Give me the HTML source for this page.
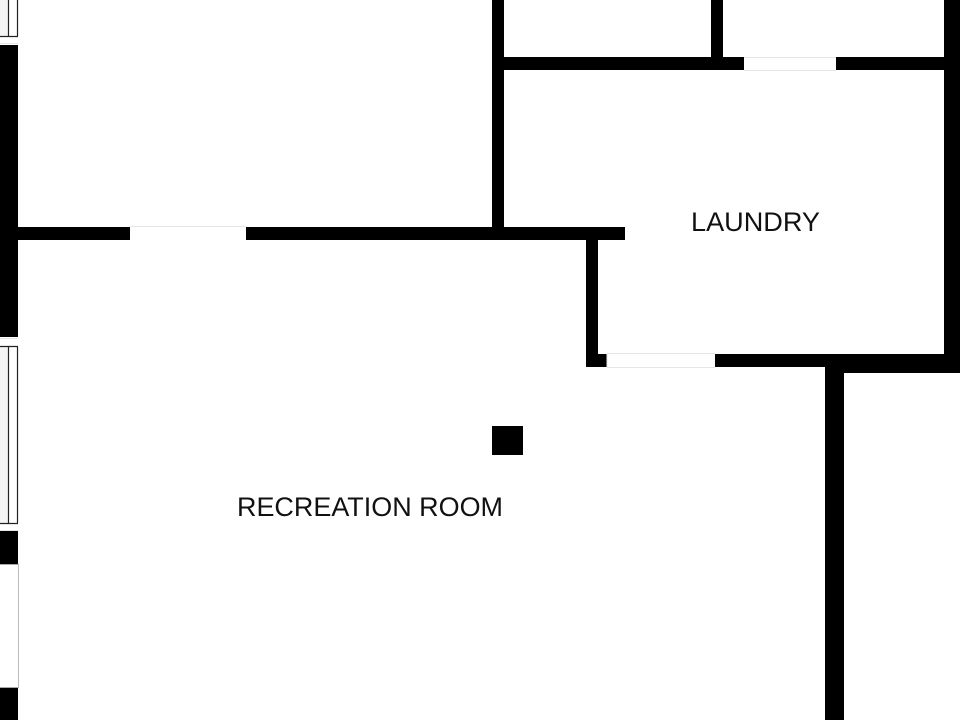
<!DOCTYPE html>
<html><head><meta charset="utf-8"><style>
html,body{margin:0;padding:0;background:#fff}
svg{display:block}
text{font-family:"Liberation Sans",sans-serif;fill:#111}
</style></head><body>
<svg width="960" height="720" viewBox="0 0 960 720" xmlns="http://www.w3.org/2000/svg">
<rect width="960" height="720" fill="#fff"/>
<rect x="0" y="0" width="8" height="36" fill="#f4f4f4"/>
<rect x="0" y="347" width="8" height="176" fill="#f4f4f4"/>
<g fill="#000">
<rect x="0" y="45" width="18" height="292"/>
<rect x="0" y="531" width="18" height="33"/>
<rect x="0" y="688" width="18" height="32"/>
<rect x="18" y="227" width="112" height="13"/>
<rect x="246" y="227" width="379" height="13"/>
<rect x="492" y="0" width="12" height="240"/>
<rect x="504" y="57" width="240" height="13"/>
<rect x="836" y="57" width="108" height="13"/>
<rect x="711" y="0" width="12" height="57"/>
<rect x="944" y="0" width="16" height="373"/>
<rect x="586" y="240" width="12" height="127"/>
<rect x="586" y="354" width="21" height="13"/>
<rect x="715" y="354" width="245" height="13"/>
<rect x="844" y="354" width="116" height="19"/>
<rect x="825" y="354" width="19" height="366"/>
<rect x="492" y="426" width="31" height="29"/>
</g>
<g fill="none" stroke="#222" stroke-width="1.2">
<path d="M8.500 0V36M17.500 0V36M0 36.500H18"/>
<path d="M8.500 347V523M17.500 347V523M0 346.500H18M0 523.500H18"/>
</g>
<g fill="none" stroke="#e6e6e6" stroke-width="1">
<path d="M0 43.500H18M0 338.500H18M0 530.500H18"/>
<path d="M130 226.500H246"/>
<path d="M607 353.500H715M607 367.500H715M607 354V367"/>
<path d="M744 57.500H836M744 70.500H836"/>
</g>
<path d="M18.500 564V688" fill="none" stroke="#bbb"/>
<path d="M0 564.500H18M0 687.500H18" fill="none" stroke="#aaa"/>
<text x="691" y="231" font-size="27" textLength="129" lengthAdjust="spacingAndGlyphs">LAUNDRY</text>
<text x="237" y="516" font-size="27" textLength="266" lengthAdjust="spacingAndGlyphs">RECREATION ROOM</text>
</svg>
</body></html>
